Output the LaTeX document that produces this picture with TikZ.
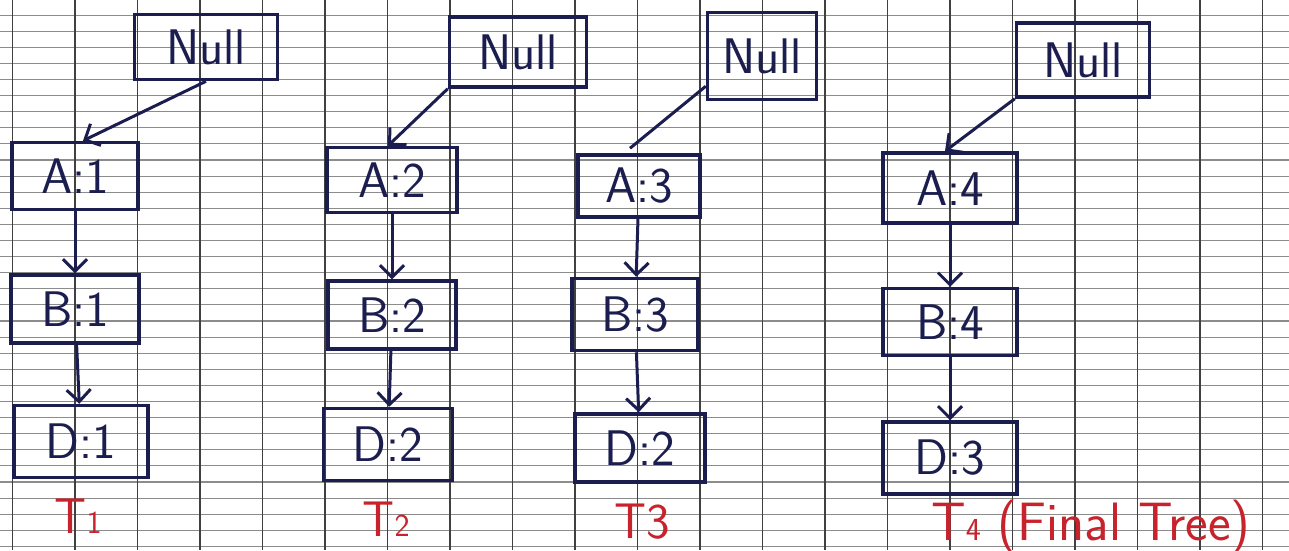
\documentclass[tikz,border=0pt]{standalone}
\usepackage{tikz}
\usetikzlibrary{positioning,arrows.meta}
\definecolor{ink}{HTML}{1B1D4F}
\definecolor{redink}{HTML}{C8232C}
\newcommand{\tsub}[1]{{\fontsize{32}{32}\selectfont#1}}

\begin{document}
\begin{tikzpicture}[
  x=1pt, y=-1pt,
  node distance=60pt,
  every node/.style={font=\sffamily\fontsize{50}{54}\selectfont},
  cell/.style={draw=ink, line width=3.5pt, rectangle, minimum width=128pt, minimum height=68pt, inner sep=0pt, text=ink},
  nullbox/.style={cell, minimum width=137pt, minimum height=70pt},
  tlabel/.style={text=redink, anchor=base, inner sep=0pt},
  vline/.style={draw=black!75, line width=1.3pt},
  hline/.style={draw=black!45, line width=1.1pt},
  arr/.style={-{Straight Barb[length=12pt,width=24pt]}, draw=ink, line width=3pt},
  link/.style={draw=ink, line width=3pt}
]
\useasboundingbox (0,0) rectangle (1289,550);
\fill[white] (0,0) rectangle (1289,550);

% squared paper
\foreach \gy in {0,...,34}
  \draw[hline] (0,{-1+16.1*\gy}) -- (1289,{-1+16.1*\gy});
\foreach \gx in {0,...,20}
  \draw[vline] ({12.5+62.5*\gx},0) -- ({12.5+62.5*\gx},550);

% T1
\node[nullbox, minimum width=143pt, minimum height=65pt] (n1) at (206,47) {Null};
\node[cell, minimum width=126pt, minimum height=67pt] (a1) at (75,176) {A:1};
\node[cell, below=62pt of a1] (b1) {B:1};
\node[cell, below=59pt of b1, xshift=6pt, minimum width=134pt, minimum height=72pt] (d1) {D:1};
\node[tlabel] (t1) at (78,533) {T\tsub{1}};

% T2
\node[nullbox] (n2) at (518,52) {Null};
\node[cell, minimum width=130pt, minimum height=65pt] (a2) at (392,180) {A:2};
\node[cell, below=65pt of a2] (b2) {B:2};
\node[cell, below=56pt of b2, xshift=-4pt, minimum width=129pt, minimum height=72pt] (d2) {D:2};
\node[tlabel] (t2) at (386,536) {T\tsub{2}};

% T3
\node[nullbox, minimum width=109pt, minimum height=87pt] (n3) at (762,56) {Null};
\node[cell, minimum width=122pt, minimum height=62pt] (a3) at (639,186) {A:3};
\node[cell, below=58pt of a3, xshift=-4pt, minimum width=126pt, minimum height=72pt] (b3) {B:3};
\node[cell, below=60pt of b3, xshift=5pt, minimum width=130pt] (d3) {D:2};
\node[tlabel] (t3) at (642,538) {T3};

% T4
\node[nullbox, minimum width=133pt, minimum height=74pt] (n4) at (1083,60) {Null};
\node[cell, minimum width=134pt, minimum height=70pt] (a4) at (950,188) {A:4};
\node[cell, below=62pt of a4, minimum width=134pt, minimum height=67pt] (b4) {B:4};
\node[cell, below=63pt of b4, minimum width=134pt, minimum height=72pt] (d4) {D:3};
\node[tlabel, font=\sffamily\fontsize{54}{58}\selectfont] (t4) at (1091,540) {T\tsub{4} (Final Tree)};

\coordinate (a3top) at ([xshift=-9pt,yshift=5pt]a3.north);

\draw[arr] (n1.south) -- ([xshift=8pt]a1.north);
\draw[arr] (a1) -- (b1);
\draw[arr] (b1) -- (d1);

\draw[arr] (n2.south west) -- ([xshift=-4pt]a2.north);
\draw[arr] (a2) -- (b2);
\draw[arr] (b2) -- (d2);

\draw[link] ([yshift=15pt]n3.south west) -- (a3top);
\draw[arr] (a3) -- (b3);
\draw[arr] (b3) -- (d3);

\draw[arr] (n4.south west) -- ([xshift=-5pt]a4.north);
\draw[arr] (a4) -- (b4);
\draw[arr] (b4) -- (d4);
\end{tikzpicture}
\end{document}
